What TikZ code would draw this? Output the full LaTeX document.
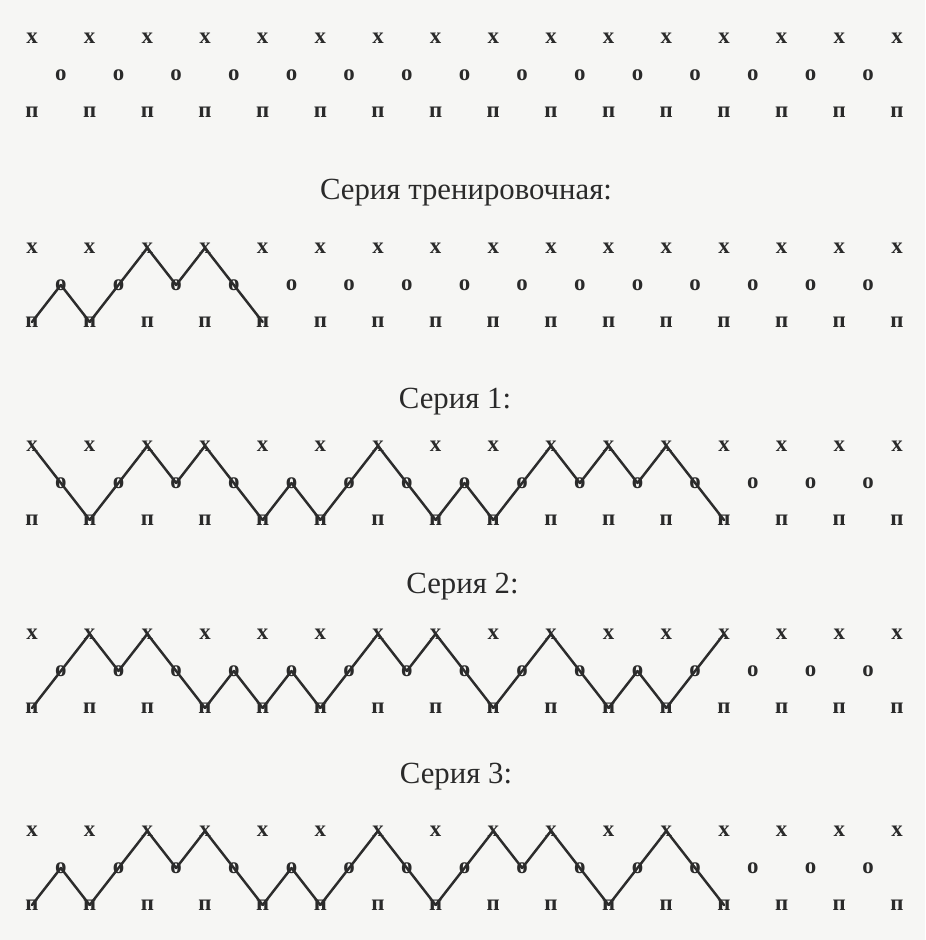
\documentclass[tikz,border=0pt]{standalone}
\usepackage{fontspec}
\setmainfont{Liberation Serif}
\usepackage{xcolor}
\definecolor{SheetBg}{HTML}{F6F6F4}
\definecolor{InkDark}{HTML}{2A2A2A}
\definecolor{ZigLine}{HTML}{2C2C2C}
\tikzset{
  sym/.style={inner sep=0pt,text=InkDark,font=\fontsize{13}{13}\selectfont\bfseries},
  head/.style={inner sep=0pt,text=InkDark,font=\fontsize{17.5}{19}\selectfont},
  zig/.style={ZigLine,line width=1.4pt,line cap=round,line join=round}
}
\begin{document}
\begin{tikzpicture}[x=1cm,y=1cm]
\path[use as bounding box] (0,0) rectangle (18.50,18.80);
\fill[SheetBg] (0,0) rectangle (18.50,18.80);
\foreach \g/\yb in {0/16.56,1/12.36,2/8.40,3/4.64,4/0.70} {
  \foreach \i in {0,...,15} {
    \node[sym] (x\g-\i) at ({0.64+1.1533*\i},{\yb+1.48}) {х};
    \node[sym] (p\g-\i) at ({0.64+1.1533*\i},\yb) {п};
  }
  \foreach \j in {0,...,14}
    \node[sym] (o\g-\j) at ({1.2167+1.1533*\j},{\yb+0.74}) {о};
}
\node[head] (t0) at (9.32,14.94) {Серия тренировочная:};
\node[head] (t1) at (9.10,10.76) {Серия 1:};
\node[head] (t2) at (9.25,7.06) {Серия 2:};
\node[head] (t3) at (9.12,3.26) {Серия 3:};
\foreach \a/\b [count=\n, evaluate=\n as \k using int(\n-1)] in {p/p,p/x,x/x,x/p}
  \draw[zig] (\a1-\k.center) -- (o1-\k.center) -- (\b1-\n.center);
\foreach \a/\b [count=\n, evaluate=\n as \k using int(\n-1)] in {x/p,p/x,x/x,x/p,p/p,p/x,x/p,p/p,p/x,x/x,x/x,x/p}
  \draw[zig] (\a2-\k.center) -- (o2-\k.center) -- (\b2-\n.center);
\foreach \a/\b [count=\n, evaluate=\n as \k using int(\n-1)] in {p/x,x/x,x/p,p/p,p/p,p/x,x/x,x/p,p/x,x/p,p/p,p/x}
  \draw[zig] (\a3-\k.center) -- (o3-\k.center) -- (\b3-\n.center);
\foreach \a/\b [count=\n, evaluate=\n as \k using int(\n-1)] in {p/p,p/x,x/x,x/p,p/p,p/x,x/p,p/x,x/x,x/p,p/x,x/p}
  \draw[zig] (\a4-\k.center) -- (o4-\k.center) -- (\b4-\n.center);
\end{tikzpicture}
\end{document}
